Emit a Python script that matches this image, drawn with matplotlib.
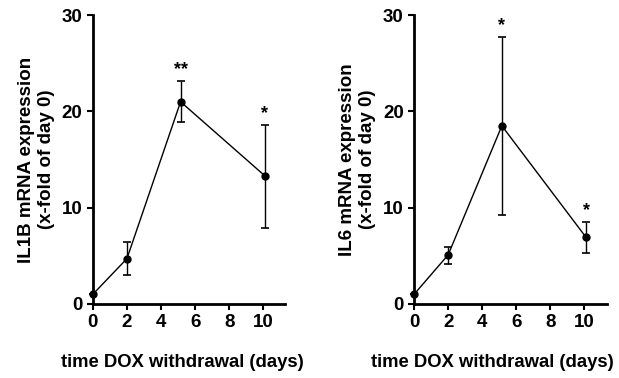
import matplotlib
matplotlib.use("Agg")
import matplotlib.pyplot as plt

plt.rcParams["font.family"] = ["Liberation Sans", "DejaVu Sans"]
plt.rcParams["font.weight"] = "bold"

# IL1B
il1b_days = [0, 2, 5.15, 10.1]
il1b_mean = [1.0, 4.7, 21.0, 13.3]
il1b_low = [1.0, 3.0, 18.9, 7.9]
il1b_high = [1.0, 6.4, 23.2, 18.6]
il1b_stars = ["", "", "**", "*"]

# IL6
il6_days = [0, 2, 5.15, 10.1]
il6_mean = [1.0, 5.1, 18.5, 6.9]
il6_low = [1.0, 4.15, 9.2, 5.3]
il6_high = [1.0, 5.9, 27.7, 8.5]
il6_stars = ["", "", "*", "*"]

xticks = [0, 2, 4, 6, 8, 10]
yticks = [0, 10, 20, 30]


def panel(ax, days, mean, low, high, stars, ylabel, xlab_x):
    yerr = [[m - l for m, l in zip(mean, low)], [h - m for m, h in zip(mean, high)]]
    ax.errorbar(days, mean, yerr=yerr, color="black", linewidth=1.0,
                elinewidth=1.0, capsize=3.2, capthick=1.2, marker="o",
                markersize=5, clip_on=False, zorder=3)
    for d, h, s in zip(days, high, stars):
        if s:
            ax.annotate(s, (d, h), xytext=(0, 2), textcoords="offset points",
                        ha="center", va="bottom", fontsize=13, fontweight="bold")
    ax.set_xlim(0, 11.3)
    ax.set_ylim(0, 30)
    ax.set_xticks(xticks)
    ax.set_yticks(yticks)
    for side in ("top", "right"):
        ax.spines[side].set_visible(False)
    for side in ("left", "bottom"):
        ax.spines[side].set_linewidth(2.0)
    ax.tick_params(width=1.5, length=4.5, labelsize=13.5, pad=3)
    for lab in ax.get_xticklabels() + ax.get_yticklabels():
        lab.set_fontweight("bold")
    ax.set_ylabel(ylabel, fontsize=13.5, fontweight="bold", labelpad=5)
    ax.set_xlabel("time DOX withdrawal (days)", fontsize=13.3, fontweight="bold")
    ax.xaxis.set_label_coords(xlab_x, -0.175)


fig = plt.figure(figsize=(6.19, 3.78), dpi=100)
ax1 = fig.add_axes([0.150, 0.196, 0.311, 0.764])
ax2 = fig.add_axes([0.669, 0.196, 0.311, 0.764])

panel(ax1, il1b_days, il1b_mean, il1b_low, il1b_high, il1b_stars,
      "IL1B mRNA expression\n(x-fold of day 0)", 0.467)
panel(ax2, il6_days, il6_mean, il6_low, il6_high, il6_stars,
      "IL6 mRNA expression\n(x-fold of day 0)", 0.405)

fig.savefig("out.png", dpi=100)
